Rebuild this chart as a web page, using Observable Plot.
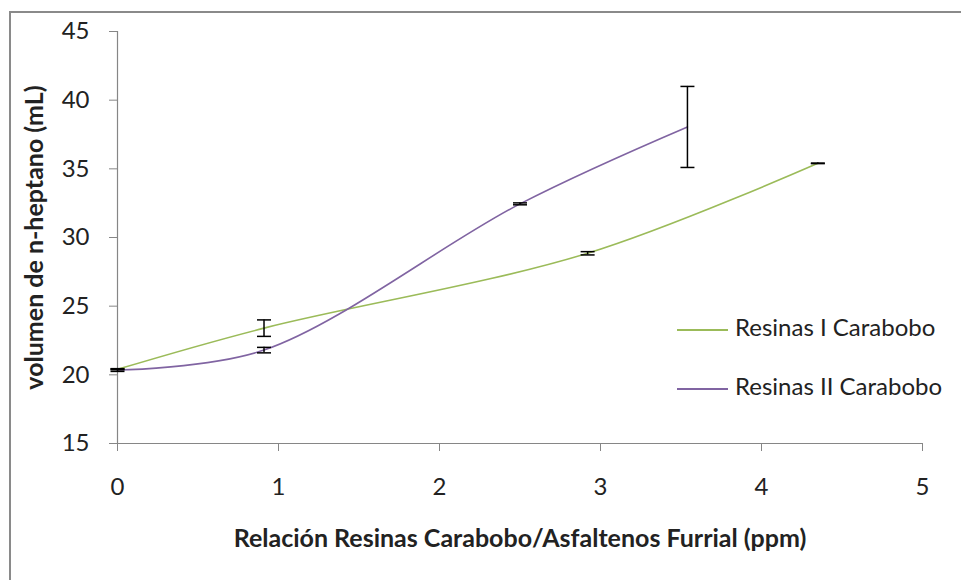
<!DOCTYPE html>
<html>
<head>
<meta charset="utf-8">
<script src="https://cdn.jsdelivr.net/npm/d3@7"></script>
<script src="https://cdn.jsdelivr.net/npm/@observablehq/plot@0.6"></script>
<style>
  html, body { margin: 0; padding: 0; background: #fff; }
  #wrap { position: relative; width: 961px; height: 580px; overflow: hidden; font-family: Lato, "Noto Sans", sans-serif; }
  #border { position: absolute; left: 9px; top: 11px; width: 1000px; height: 1000px; border-left: 2px solid #8a8a8a; border-top: 2px solid #8a8a8a; box-sizing: border-box; }
  #legend { position: absolute; left: 677px; top: 0; }
  .item { position: absolute; left: 0; white-space: nowrap; font-size: 24px; line-height: 1.2; color: #222; }
  .sw { display: inline-block; width: 51px; height: 0; border-top: 2px solid; vertical-align: middle; margin-right: 7px; }
</style>
</head>
<body>
<div id="wrap"><div id="border"></div><div id="chart"></div><div id="legend"></div></div>
<script>
const seriesNames = ["Resinas I Carabobo", "Resinas II Carabobo"];
const seriesColors = ["#9BBB59", "#8064A2"];
const xI = [0, 0.91, 2.92, 4.35];
const yI = [20.4, 23.4, 28.85, 35.4];
const errI = [0.03, 0.6, 0.12, 0.02];
const xII = [0, 0.91, 2.5, 3.54];
const yII = [20.35, 21.8, 32.45, 38.05];
const errII = [0.1, 0.2, 0.07, 2.95];
const xTicks = [0, 1, 2, 3, 4, 5];
const yTicks = [15, 20, 25, 30, 35, 40, 45];
const xTitle = "Relación Resinas Carabobo/Asfaltenos Furrial (ppm)";
const yTitle = "volumen de n-heptano (mL)";

const rows = [];
[[xI, yI, errI], [xII, yII, errII]].forEach(([xs, ys, es], s) => {
  xs.forEach((x, i) => rows.push({series: seriesNames[s], x, y: ys[i], lo: ys[i] - es[i], hi: ys[i] + es[i]}));
});

const cap = { draw(ctx) { ctx.moveTo(-7, 0); ctx.lineTo(7, 0); } };

const chart = Plot.plot({
  width: 961, height: 580,
  marginLeft: 117, marginRight: 39, marginTop: 31, marginBottom: 137,
  style: { fontFamily: "Lato, 'Noto Sans', sans-serif", fontSize: "24px", background: "transparent", color: "#222" },
  x: { domain: [0, 5] },
  y: { domain: [15, 45] },
  color: { domain: seriesNames, range: seriesColors },
  marks: [
    Plot.ruleY([15], { stroke: "#868686", strokeWidth: 1.2 }),
    Plot.ruleX([0], { stroke: "#868686", strokeWidth: 1.2 }),
    Plot.axisX({ ticks: xTicks, tickSize: 8, tickPadding: 26, stroke: "#868686", fill: "#222", tickFormat: d => String(d), label: null, fontSize: 24 }),
    Plot.axisY({ ticks: yTicks, tickSize: 8, tickPadding: 20, stroke: "#868686", fill: "#222", tickFormat: d => String(d), label: null, fontSize: 24 }),
    Plot.line(rows, { x: "x", y: "y", stroke: "series", curve: "catmull-rom", strokeWidth: 1.6 }),
    Plot.ruleX(rows, { x: "x", y1: "lo", y2: "hi", stroke: "#000", strokeWidth: 1.5 }),
    Plot.dot(rows, { x: "x", y: "lo", symbol: cap, r: 7, stroke: "#000", fill: "none", strokeWidth: 1.5 }),
    Plot.dot(rows, { x: "x", y: "hi", symbol: cap, r: 7, stroke: "#000", fill: "none", strokeWidth: 1.5 }),
    Plot.text([xTitle], { frameAnchor: "bottom", lineAnchor: "middle", textAnchor: "middle", dy: 95, fontWeight: "bold", fontSize: 25, fill: "#222" }),
    Plot.text([yTitle], { frameAnchor: "left", lineAnchor: "middle", textAnchor: "middle", dx: -83, rotate: -90, fontWeight: "bold", fontSize: 25, fill: "#222" })
  ]
});
document.getElementById("chart").appendChild(chart);

const legend = document.getElementById("legend");
const legendTops = [313, 372];
seriesNames.forEach((name, i) => {
  const d = document.createElement("div");
  d.className = "item";
  d.style.top = legendTops[i] + "px";
  d.innerHTML = `<span class="sw" style="border-color:${seriesColors[i]}"></span>${name}`;
  legend.appendChild(d);
});
</script>
</body>
</html>
